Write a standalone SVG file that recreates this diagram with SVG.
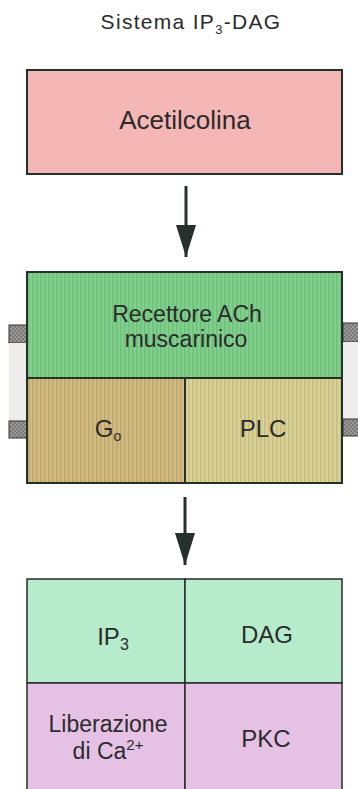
<svg xmlns="http://www.w3.org/2000/svg" width="358" height="789" viewBox="0 0 358 789">
<defs>
<style>
.t{font-family:"Liberation Sans",Arial,sans-serif;fill:#2b2b2b;text-anchor:middle;font-size:24px}
.s{font-size:23px}
.box{stroke:#24302a;stroke-width:2}
.thin{stroke:#2a2a2a;stroke-width:1.5}
.conn{stroke:#26302c;stroke-width:3;fill:none}
</style>
<pattern id="stG" width="4" height="4" patternUnits="userSpaceOnUse"><rect width="4" height="4" fill="#80d08c"/><rect width="1.5" height="4" fill="#6ec07c"/></pattern>
<pattern id="stT" width="4" height="4" patternUnits="userSpaceOnUse"><rect width="4" height="4" fill="#d2bb80"/><rect width="1.5" height="4" fill="#bfa56c"/></pattern>
<pattern id="stY" width="4" height="4" patternUnits="userSpaceOnUse"><rect width="4" height="4" fill="#d9d196"/><rect width="1.5" height="4" fill="#c6bd80"/></pattern>
<pattern id="chk" width="4" height="4" patternUnits="userSpaceOnUse"><rect width="4" height="4" fill="#9a9896"/><rect width="2" height="2" fill="#7c7a78"/><rect x="2" y="2" width="2" height="2" fill="#7c7a78"/></pattern>
<marker id="ah" markerUnits="userSpaceOnUse" markerWidth="32" markerHeight="20" refX="32" refY="10" orient="auto" viewBox="0 0 32 20">
<path d="M0,0 L32,10 L0,20 Z" fill="#26302c"/>
</marker>
</defs>
<rect width="358" height="789" fill="#ffffff"/>

<text class="t" x="191" y="29" style="font-size:21px;letter-spacing:1.3px">Sistema IP<tspan style="font-size:13px" dy="5">3</tspan><tspan dy="-5">-DAG</tspan></text>

<g id="membrane">
<rect x="9" y="325" width="18" height="18" fill="url(#chk)" stroke="#333" stroke-width="1"/>
<rect x="9" y="343" width="18" height="78" fill="#efedeb"/>
<rect x="9" y="421" width="18" height="17" fill="url(#chk)" stroke="#333" stroke-width="1"/>
<rect x="343" y="323" width="16" height="19" fill="url(#chk)" stroke="#333" stroke-width="1"/>
<rect x="343" y="342" width="16" height="77" fill="#efedeb"/>
<rect x="343" y="419" width="16" height="17" fill="url(#chk)" stroke="#333" stroke-width="1"/>
</g>

<g id="acetilcolina">
<rect class="box" x="27" y="70" width="315" height="104" fill="#f5b6b6"/>
<text class="t" x="185" y="129" style="font-size:26px">Acetilcolina</text>
</g>

<g id="connectors">
<line class="conn" x1="186" y1="186" x2="186" y2="257" marker-end="url(#ah)"/>
<line class="conn" x1="185" y1="497" x2="185" y2="565" marker-end="url(#ah)"/>
</g>

<g id="recettore">
<rect class="box" x="27" y="272" width="315" height="106" fill="url(#stG)"/>
<text class="t s" x="187" y="322">Recettore ACh</text>
<text class="t s" x="186" y="347">muscarinico</text>
</g>
<g id="go">
<rect class="box" x="27" y="378" width="158" height="105" fill="url(#stT)"/>
<text class="t" x="108" y="437">G<tspan style="font-size:14px" dy="4">o</tspan></text>
</g>
<g id="plc">
<rect class="box" x="185" y="378" width="157" height="105" fill="url(#stY)"/>
<text class="t" x="263" y="437">PLC</text>
</g>

<g id="ip3">
<rect class="thin" x="27" y="579" width="158" height="104" fill="#b6ebcc"/>
<text class="t" x="113" y="645">IP<tspan style="font-size:16px" dy="5">3</tspan></text>
</g>
<g id="dag">
<rect class="thin" x="185" y="579" width="157" height="104" fill="#b6ebcc"/>
<text class="t" x="267" y="643">DAG</text>
</g>
<g id="liberazione">
<rect class="thin" x="27" y="683" width="158" height="112" fill="#e6c1e6"/>
<text class="t s" x="108" y="732">Liberazione</text>
<text class="t s" x="108" y="759">di Ca<tspan style="font-size:15px" dy="-9">2+</tspan></text>
</g>
<g id="pkc">
<rect class="thin" x="185" y="683" width="157" height="112" fill="#e6c1e6"/>
<text class="t" x="266" y="747">PKC</text>
</g>
</svg>
